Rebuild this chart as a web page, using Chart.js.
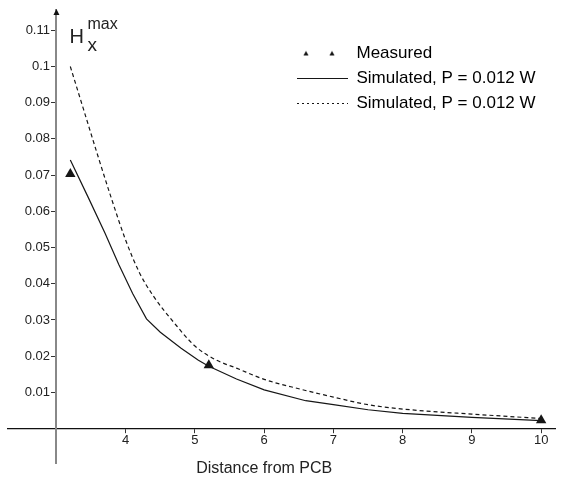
<!DOCTYPE html>
<html>
<head>
<meta charset="utf-8">
<script src="https://cdn.jsdelivr.net/npm/chart.js@4/dist/chart.umd.min.js"></script>
<style>
  html, body { margin: 0; padding: 0; background: #fff; }
  canvas { display: block; }
</style>
</head>
<body>
<canvas id="chart" width="561" height="478"></canvas>
<script>
// values
const measuredX = [3.2, 5.2, 10.0];
const measuredY = [0.0703, 0.0175, 0.0023];

const simSolidX = [3.2, 3.45, 3.7, 3.9, 4.1, 4.3, 4.5, 4.8, 5.05, 5.2, 5.6, 6.0, 6.6, 7.0, 7.5, 8.0, 9.0, 10.0];
const simSolidY = [0.0742, 0.0642, 0.0540, 0.0453, 0.0373, 0.0303, 0.0266, 0.0222, 0.0189, 0.0172, 0.0137, 0.0107, 0.0077, 0.0066, 0.0052, 0.0042, 0.0031, 0.0022];

const simDashX = [3.2, 3.4, 3.6, 3.8, 4.0, 4.2, 4.4, 4.7, 5.0, 5.3, 5.6, 6.0, 6.5, 7.0, 7.5, 8.0, 9.0, 10.0];
const simDashY = [0.1000, 0.0876, 0.0752, 0.0632, 0.0520, 0.0430, 0.0366, 0.0292, 0.0228, 0.0190, 0.0167, 0.0136, 0.0110, 0.0087, 0.0066, 0.0054, 0.0040, 0.0028];

const xTicks = [4, 5, 6, 7, 8, 9, 10];
const yTicks = [0.01, 0.02, 0.03, 0.04, 0.05, 0.06, 0.07, 0.08, 0.09, 0.1, 0.11];

const legendLabels = ['Measured', 'Simulated, P = 0.012 W', 'Simulated, P = 0.012 W'];
const xTitle = 'Distance from PCB';

const ink = '#161616';

function toPoints(xs, ys) {
    return xs.map((x, i) => ({ x: x, y: ys[i] }));
}

// little image with two small triangles for the "Measured" legend entry
function twoTriangles(w) {
    const c = document.createElement('canvas');
    c.width = w;
    c.height = 8;
    const g = c.getContext('2d');
    g.fillStyle = ink;
    [9, 35].forEach(cx => {
        g.beginPath();
        g.moveTo(cx, 1.5);
        g.lineTo(cx + 2.6, 6);
        g.lineTo(cx - 2.6, 6);
        g.closePath();
        g.fill();
    });
    return c;
}

Chart.defaults.font.family = "'Liberation Sans', Arial, sans-serif";
Chart.defaults.color = '#222';

const extras = {
    id: 'extras',
    afterLayout(chart) {
        // put the legend inside the plot, upper right
        const lg = chart.legend;
        lg.left = 289;
        lg.top = 37;
        lg.right = 560;
        lg.bottom = 130;
    },
    afterDraw(chart) {
        const ctx = chart.ctx;
        const area = chart.chartArea;
        const ax = chart.scales.x.getPixelForValue(3);
        ctx.save();
        // arrow on the y axis
        ctx.fillStyle = '#111';
        ctx.beginPath();
        ctx.moveTo(ax, area.top - 1);
        ctx.lineTo(ax + 3, area.top + 5);
        ctx.lineTo(ax - 3, area.top + 5);
        ctx.closePath();
        ctx.fill();

        // y axis label H_x^max
        ctx.fillStyle = '#222';
        ctx.textBaseline = 'alphabetic';
        ctx.textAlign = 'left';
        ctx.font = "20px 'Liberation Sans', Arial, sans-serif";
        ctx.fillText('H', ax + 13, area.top + 33);
        ctx.font = "16px 'Liberation Sans', Arial, sans-serif";
        ctx.fillText('max', ax + 31, area.top + 19);
        ctx.font = "19px 'Liberation Sans', Arial, sans-serif";
        ctx.fillText('x', ax + 31, area.top + 41);

        // x axis title
        ctx.textAlign = 'center';
        ctx.font = "16px 'Liberation Sans', Arial, sans-serif";
        ctx.fillText(xTitle, chart.scales.x.getPixelForValue(6), area.bottom + 10);
        ctx.restore();
    }
};

const ctx = document.getElementById('chart').getContext('2d');

new Chart(ctx, {
    type: 'line',
    data: {
        datasets: [{
            label: legendLabels[0],
            data: toPoints(measuredX, measuredY),
            showLine: false,
            pointStyle: 'triangle',
            pointRadius: 6,
            pointBackgroundColor: ink,
            pointBorderWidth: 0
        }, {
            label: legendLabels[1],
            data: toPoints(simSolidX, simSolidY),
            borderColor: ink,
            borderWidth: 1.2,
            pointRadius: 0,
            tension: 0
        }, {
            label: legendLabels[2],
            data: toPoints(simDashX, simDashY),
            borderColor: ink,
            borderWidth: 1.2,
            borderDash: [4, 3],
            pointRadius: 0,
            cubicInterpolationMode: 'monotone'
        }]
    },
    options: {
        responsive: false,
        animation: false,
        events: [],
        layout: {
            padding: { left: 8, right: 0, top: 10, bottom: 15 }
        },
        plugins: {
            tooltip: { enabled: false },
            legend: {
                position: 'chartArea',
                align: 'start',
                labels: {
                    usePointStyle: true,
                    pointStyleWidth: 51,
                    padding: 8,
                    color: '#222',
                    font: { size: 17 },
                    generateLabels(chart) {
                        return [{
                            text: legendLabels[0],
                            pointStyle: twoTriangles(51),
                            fillStyle: ink,
                            strokeStyle: ink,
                            lineWidth: 0,
                            datasetIndex: 0
                        }, {
                            text: legendLabels[1],
                            pointStyle: 'line',
                            fillStyle: ink,
                            strokeStyle: ink,
                            lineWidth: 1.2,
                            lineDash: [],
                            datasetIndex: 1
                        }, {
                            text: legendLabels[2],
                            pointStyle: 'line',
                            fillStyle: ink,
                            strokeStyle: ink,
                            lineWidth: 1.2,
                            lineDash: [2, 3],
                            datasetIndex: 2
                        }];
                    }
                }
            }
        },
        scales: {
            x: {
                type: 'linear',
                min: 2.3,
                max: 10.2,
                position: { y: 0 },
                afterBuildTicks(scale) {
                    scale.ticks = xTicks.map(v => ({ value: v }));
                },
                grid: {
                    drawOnChartArea: false,
                    tickLength: 4,
                    tickColor: '#333',
                    tickWidth: 1
                },
                border: { color: '#111', width: 1.2 },
                ticks: {
                    padding: 0,
                    color: '#222',
                    font: { size: 13 }
                }
            },
            y: {
                type: 'linear',
                min: -0.0095,
                max: 0.1156,
                position: { x: 3 },
                afterBuildTicks(scale) {
                    scale.ticks = yTicks.map(v => ({ value: v }));
                },
                grid: {
                    drawOnChartArea: false,
                    tickLength: 4,
                    tickColor: '#333',
                    tickWidth: 1
                },
                border: { color: '#888', width: 2 },
                ticks: {
                    padding: 2,
                    color: '#222',
                    font: { size: 13 },
                    // labels sit on the axis when it is placed by value, so pad them on the right
                    callback: v => String(v) + '\u2002'
                }
            }
        }
    },
    plugins: [extras]
});
</script>
</body>
</html>
